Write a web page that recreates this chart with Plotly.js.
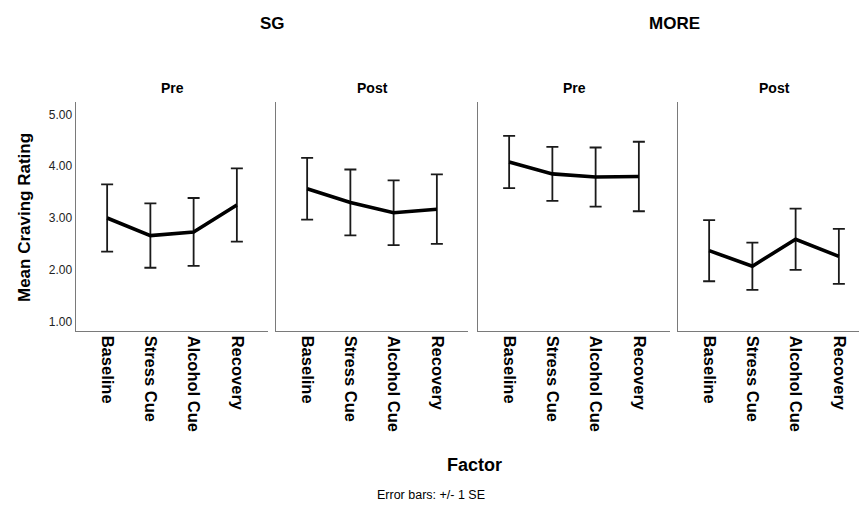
<!DOCTYPE html>
<html>
<head>
<meta charset="utf-8">
<script src="https://cdn.plot.ly/plotly-3.0.1.min.js"></script>
<style>
html,body{margin:0;padding:0;overflow:hidden;background:#fff;}
#chart{width:880px;height:508px;}
</style>
</head>
<body>
<div id="chart"></div>
<script>
// Data
const categories = ['Baseline', 'Stress Cue', 'Alcohol Cue', 'Recovery'];
const groups = ['SG', 'MORE'];
const phases = ['Pre', 'Post'];
const sgPreMean   = [3.00, 2.66, 2.73, 3.25];
const sgPreSE     = [0.65, 0.62, 0.655, 0.705];
const sgPostMean  = [3.565, 3.30, 3.10, 3.17];
const sgPostSE    = [0.595, 0.635, 0.625, 0.67];
const morePreMean = [4.08, 3.85, 3.79, 3.80];
const morePreSE   = [0.505, 0.52, 0.57, 0.67];
const morePostMean= [2.37, 2.07, 2.59, 2.26];
const morePostSE  = [0.59, 0.455, 0.59, 0.53];

const W = 880, H = 508;
const FONT = '"Liberation Sans", Arial, sans-serif';
const px = v => v / W;
const py = v => 1 - v / H;

const panels = [
  {mean: sgPreMean, se: sgPreSE, left: 76},
  {mean: sgPostMean, se: sgPostSE, left: 276},
  {mean: morePreMean, se: morePreSE, left: 478},
  {mean: morePostMean, se: morePostSE, left: 678}
];
const panelW = 192;
const yDom = [py(331), py(101.7)];

const traces = [];
const layout = {
  width: W, height: H,
  margin: {l: 0, r: 0, t: 0, b: 0},
  paper_bgcolor: '#fff', plot_bgcolor: '#fff',
  showlegend: false,
  font: {family: FONT, color: '#000'},
  annotations: []
};

panels.forEach((p, i) => {
  const n = i === 0 ? '' : String(i + 1);
  traces.push({
    type: 'scatter', mode: 'lines',
    x: categories, y: p.mean,
    xaxis: 'x' + n, yaxis: 'y' + n,
    line: {color: '#000', width: 3.6},
    error_y: {type: 'data', array: p.se, visible: true, color: '#1a1a1a', thickness: 1.8, width: 6},
    hoverinfo: 'skip'
  });
  layout['xaxis' + n] = {
    domain: [px(p.left), px(p.left + panelW)],
    anchor: 'y' + n,
    type: 'category',
    range: [-0.72, 3.72],
    showgrid: false, zeroline: false,
    showline: true, linecolor: '#7a7a7a', linewidth: 1.4,
    ticks: '', tickangle: 90,
    tickfont: {family: FONT, size: 16.5, color: '#000', weight: 'bold'}
  };
  layout['yaxis' + n] = {
    domain: yDom,
    anchor: 'x' + n,
    range: [0.82, 5.243],
    showgrid: false, zeroline: false,
    showline: true, linecolor: '#7a7a7a', linewidth: 1.4,
    ticks: '',
    tickvals: [1, 2, 3, 4, 5], tickformat: '.2f',
    showticklabels: i === 0,
    tickfont: {family: FONT, size: 12, color: '#222'}
  };
  if (i > 0) layout['yaxis' + n].matches = 'y';
  layout.annotations.push({
    xref: 'paper', yref: 'paper', x: px(p.left + panelW / 2), y: py(88),
    text: '<b>' + phases[i % 2] + '</b>', showarrow: false,
    xanchor: 'center', yanchor: 'middle',
    font: {family: FONT, size: 14, color: '#000'}
  });
});

// group titles
layout.annotations.push({
  xref: 'paper', yref: 'paper', x: px(272.5), y: py(23),
  text: '<b>' + groups[0] + '</b>', showarrow: false, xanchor: 'center', yanchor: 'middle',
  font: {family: FONT, size: 17, color: '#000'}
});
layout.annotations.push({
  xref: 'paper', yref: 'paper', x: px(674.5), y: py(23),
  text: '<b>' + groups[1] + '</b>', showarrow: false, xanchor: 'center', yanchor: 'middle',
  font: {family: FONT, size: 17, color: '#000'}
});
// axis titles
layout.annotations.push({
  xref: 'paper', yref: 'paper', x: px(24), y: py(218),
  text: '<b>Mean Craving Rating</b>', showarrow: false, textangle: -90,
  xanchor: 'center', yanchor: 'middle',
  font: {family: FONT, size: 17, color: '#000'}
});
layout.annotations.push({
  xref: 'paper', yref: 'paper', x: px(474), y: py(465),
  text: '<b>Factor</b>', showarrow: false, xanchor: 'center', yanchor: 'middle',
  font: {family: FONT, size: 18, color: '#000'}
});
layout.annotations.push({
  xref: 'paper', yref: 'paper', x: px(431), y: py(495),
  text: 'Error bars: +/- 1 SE', showarrow: false, xanchor: 'center', yanchor: 'middle',
  font: {family: FONT, size: 12.5, color: '#000'}
});

Plotly.newPlot('chart', traces, layout, {staticPlot: true, displayModeBar: false});
</script>
</body>
</html>
